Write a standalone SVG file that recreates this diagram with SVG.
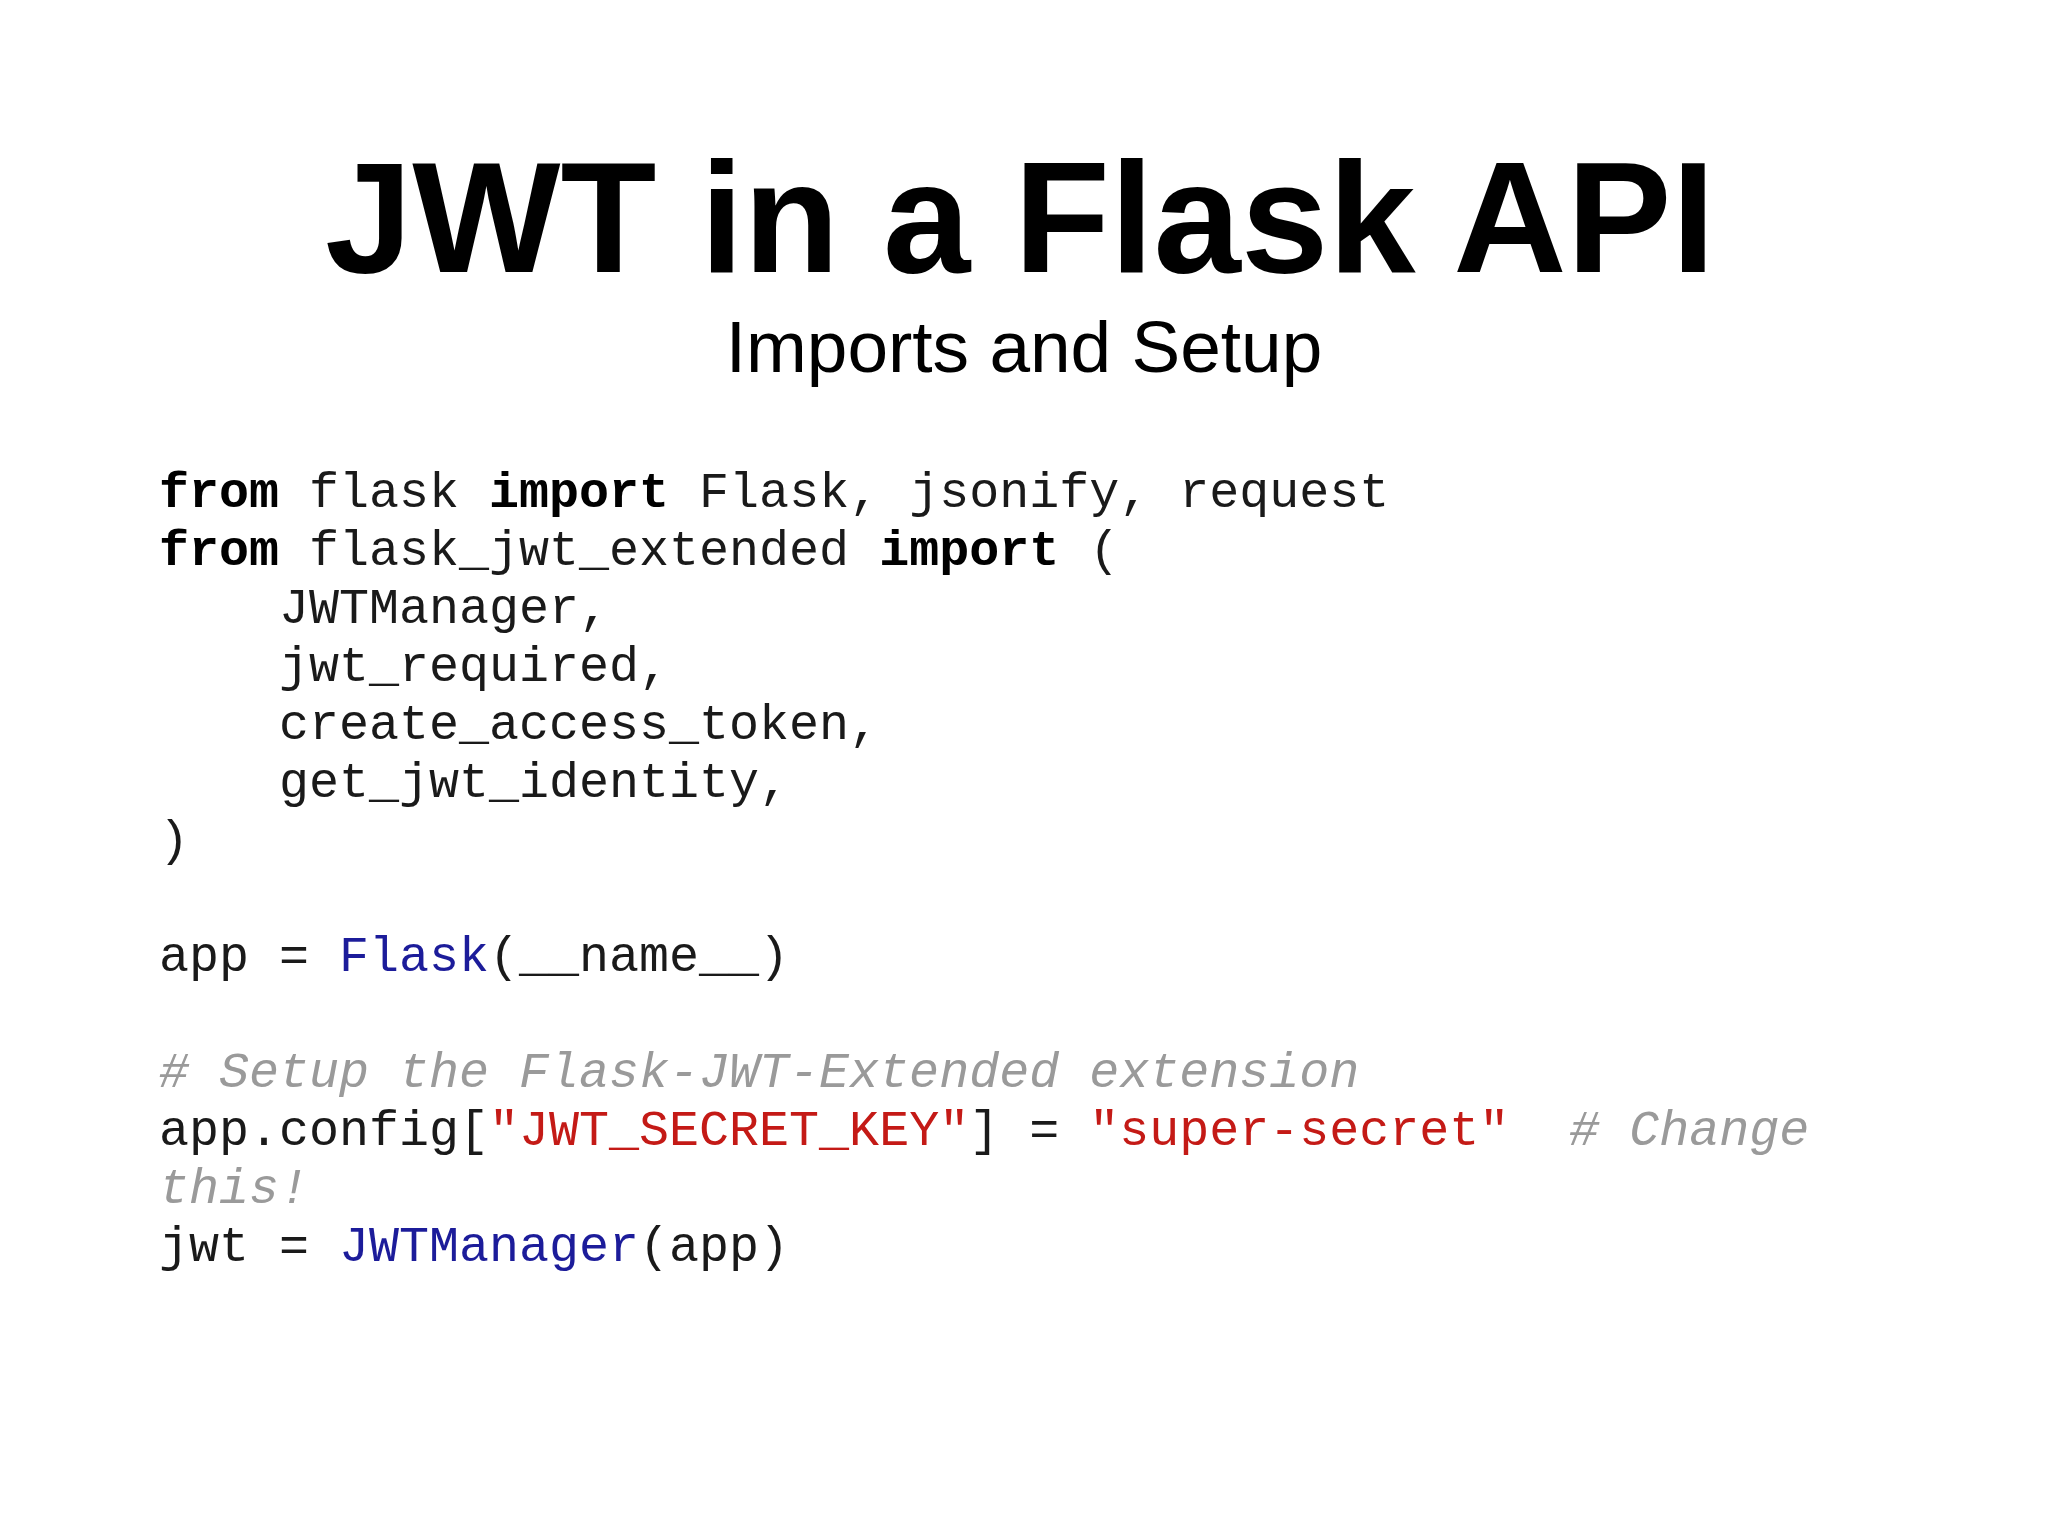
<svg xmlns="http://www.w3.org/2000/svg" width="2048" height="1536" viewBox="0 0 2048 1536">
<style>
.t{font-family:"Liberation Sans",Arial,sans-serif;fill:#000;text-anchor:middle}
.c{font-family:"Liberation Mono","Courier New",monospace;font-size:50px;fill:#1a1a1a;white-space:pre}
.k{font-weight:bold;fill:#000}
.b{fill:#1c1c9a}
.r{fill:#c41a16}
.g{fill:#9a9a9a;font-style:italic}
</style>
<rect width="2048" height="1536" fill="#fff"/>
<g id="title">
<text class="t" x="1020" y="272" font-size="157" font-weight="bold">JWT in a Flask API</text>
<text class="t" x="1024" y="372" font-size="73" font-weight="300" font-family="Lato">Imports and Setup</text>
</g>
<g id="code" xml:space="preserve">
<text class="c" x="159" y="507"><tspan class="k">from</tspan> flask <tspan class="k">import</tspan> Flask, jsonify, request</text>
<text class="c" x="159" y="565"><tspan class="k">from</tspan> flask_jwt_extended <tspan class="k">import</tspan> (</text>
<text class="c" x="159" y="623">    JWTManager,</text>
<text class="c" x="159" y="681">    jwt_required,</text>
<text class="c" x="159" y="739">    create_access_token,</text>
<text class="c" x="159" y="797">    get_jwt_identity,</text>
<text class="c" x="159" y="855">)</text>
<text class="c" x="159" y="971">app = <tspan class="b">Flask</tspan>(__name__)</text>
<text class="c" x="159" y="1087"><tspan class="g"># Setup the Flask-JWT-Extended extension</tspan></text>
<text class="c" x="159" y="1145">app.config[<tspan class="r">"JWT_SECRET_KEY"</tspan>] = <tspan class="r">"super-secret"</tspan>  <tspan class="g"># Change</tspan></text>
<text class="c" x="159" y="1203"><tspan class="g">this!</tspan></text>
<text class="c" x="159" y="1261">jwt = <tspan class="b">JWTManager</tspan>(app)</text>
</g>
</svg>
